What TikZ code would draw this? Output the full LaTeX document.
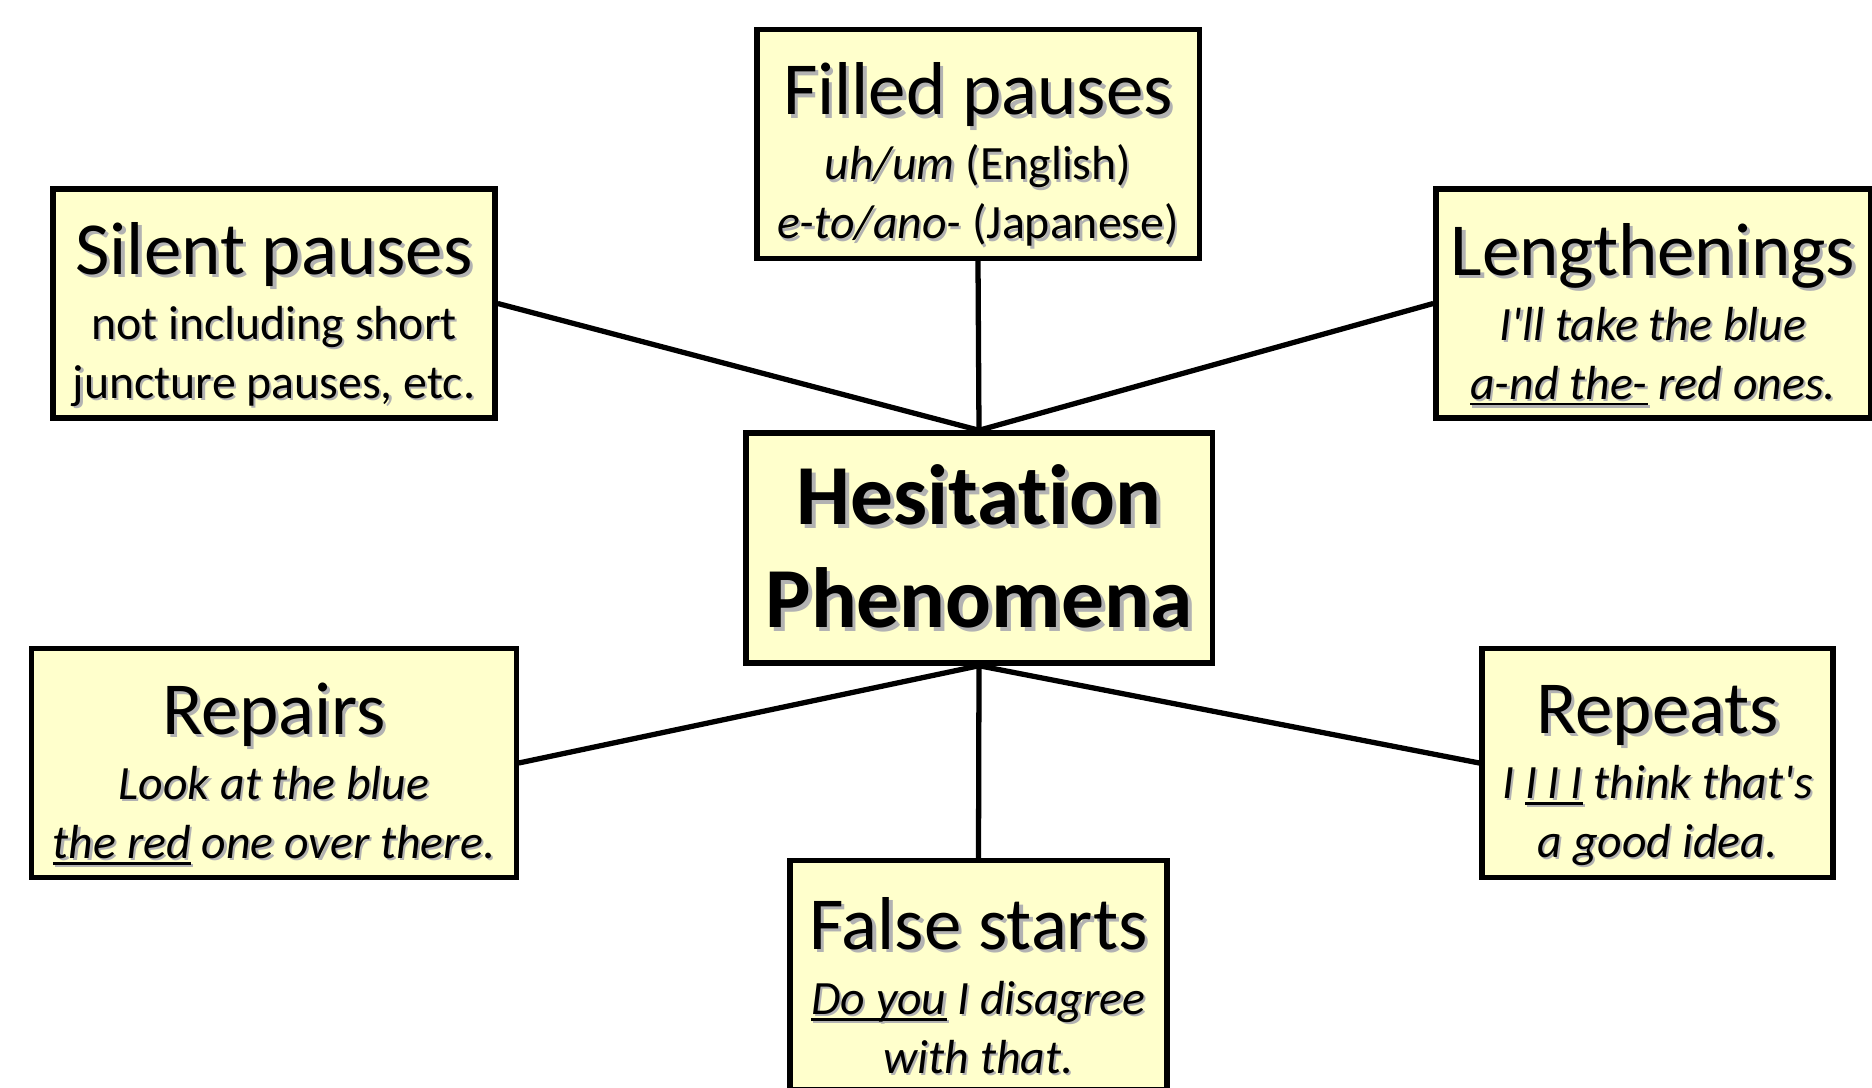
\documentclass[tikz,border=0pt]{standalone}
\usepackage{fontspec}
\setmainfont{Carlito}[Ligatures=NoCommon]
\usepackage{xcolor}
\usetikzlibrary{positioning}

\definecolor{boxfill}{HTML}{FFFFCC}
% gray drop shadow behind a line of text
\newcommand{\shd}[1]{\leavevmode\rlap{\kern0.045em\raisebox{-0.045em}{\color{black!30}#1}}#1}
% underline sitting close to the baseline
\newcommand{\ulin}[1]{\setbox0=\hbox{#1}\rlap{\rule[-0.13em]{\wd0}{0.06em}}\box0\relax}
\newcommand{\hd}[1]{{\fontsize{21.3}{18}\selectfont\rule{0pt}{21.5pt}\shd{#1}}}

\begin{document}
\begin{tikzpicture}[x=0.01cm,y=-0.01cm,
  phen/.style={draw,line width=1.5pt,fill=boxfill,inner sep=0pt,align=center,
    minimum height=2.29cm,font=\fontsize{13.6}{16.8}\selectfont},
  link/.style={line width=1.5pt}]
\useasboundingbox (0,0) rectangle (1872,1088);

\node[phen,minimum width=4.66cm,minimum height=2.30cm,
  font=\fontsize{24.3}{29.3}\selectfont\bfseries] (hes) at (979,548)
  {\shd{Hesitation}\\\shd{Phenomena}};

\node[phen,minimum width=4.42cm] (filled) at (978,144)
  {\hd{Filled pauses}\\[1.7pt]\shd{\textit{uh/um} (English)}\\\shd{\textit{e-to/ano-} (Japanese)}};
\node[phen,minimum width=4.42cm] (silent) at (274,303.5)
  {\hd{Silent pauses}\\[1.7pt]\shd{not including short}\\\shd{juncture pauses, etc.}};
\node[phen,minimum width=4.34cm] (leng) at (1653,303.5)
  {\hd{Lengthenings}\\[1.7pt]\shd{\itshape I\textquotesingle ll take the blue}\\\shd{\itshape\ulin{a-nd the-} red ones.}};
\node[phen,minimum width=4.84cm] (repairs) at (274,763)
  {\hd{Repairs}\\[1.7pt]\shd{\itshape Look at the blue}\\\shd{\itshape\ulin{the red} one over there.}};
\node[phen,minimum width=3.51cm] (repeats) at (1657.5,763)
  {\hd{Repeats}\\[1.7pt]\shd{\itshape I \ulin{I I I} think that\textquotesingle s}\\\shd{\itshape a good idea.}};
\node[phen,minimum width=3.77cm] (false) at (978.5,975)
  {\hd{False starts}\\[1.7pt]\shd{\itshape\ulin{Do you} I disagree}\\\shd{\itshape with that.}};

\draw[link] (hes.north) -- (filled.south);
\draw[link] (hes.north) -- (silent.east);
\draw[link] (hes.north) -- (leng.west);
\draw[link] (hes.south) -- (repairs.east);
\draw[link] (hes.south) -- (false.north);
\draw[link] (hes.south) -- (repeats.west);
\end{tikzpicture}
\end{document}
